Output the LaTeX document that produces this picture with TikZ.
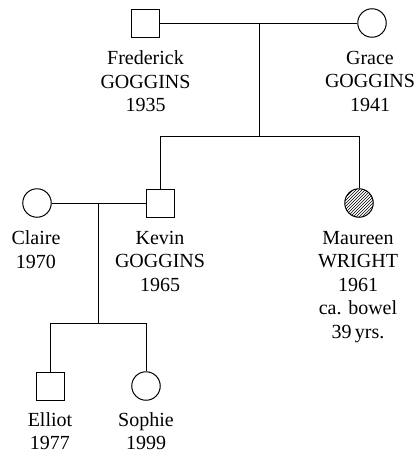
\documentclass[tikz,border=0pt]{standalone}
\usepackage{fontspec}
\setmainfont{Liberation Serif}
\usetikzlibrary{patterns}
\begin{document}
\begin{tikzpicture}[x=1pt,y=-1pt,line width=1pt,
  male/.style={draw,rectangle,minimum size=28pt,inner sep=0pt},
  female/.style={draw,circle,minimum size=28.5pt,inner sep=0pt},
  affected/.style={pattern=north east lines},
  lbl/.style={anchor=north,inner sep=0pt,align=center,font={\fontsize{20}{23.5}\selectfont}}]
\useasboundingbox (0,0) rectangle (420,453);
% generation I
\node[male] (fred) at (145.5,23) {};
\node[female] (grace) at (372,23) {};
\draw (fred.east) -- (grace.west);
\coordinate (m1) at (259,23);
\coordinate (s1) at (259,136);
\draw (m1) -- (s1);
\node[lbl] (fredL) at (145.5,50.5) {Frederick\\GOGGINS\\1935};
\node[lbl] (graceL) at (370,50.5) {Grace\\GOGGINS\\1941};
% generation II
\node[male] (kevin) at (160,203) {};
\node[female,affected] (maureen) at (359,203) {};
\node[female] (claire) at (37,203) {};
\draw (s1) -- (s1 -| kevin) -- (kevin.north);
\draw (s1) -- (s1 -| maureen) -- (maureen.north);
\draw (claire.east) -- (kevin.west);
\node[lbl] (claireL) at (36,230.5) {Claire\\1970};
\node[lbl] (kevinL) at (160,230.5) {Kevin\\GOGGINS\\1965};
\node[lbl] (maureenL) at (358,230.5) {Maureen\\WRIGHT\\1961\\ca. bowel\\39\,yrs.};
% generation III
\coordinate (m2) at (98,203);
\coordinate (s2) at (98,323);
\draw (m2) -- (s2);
\node[male] (elliot) at (50,386) {};
\node[female] (sophie) at (146,386) {};
\draw (s2) -- (s2 -| elliot) -- (elliot.north);
\draw (s2) -- (s2 -| sophie) -- (sophie.north);
\node[lbl] (elliotL) at (50,412) {Elliot\\1977};
\node[lbl] (sophieL) at (146,412) {Sophie\\1999};
\end{tikzpicture}
\end{document}
